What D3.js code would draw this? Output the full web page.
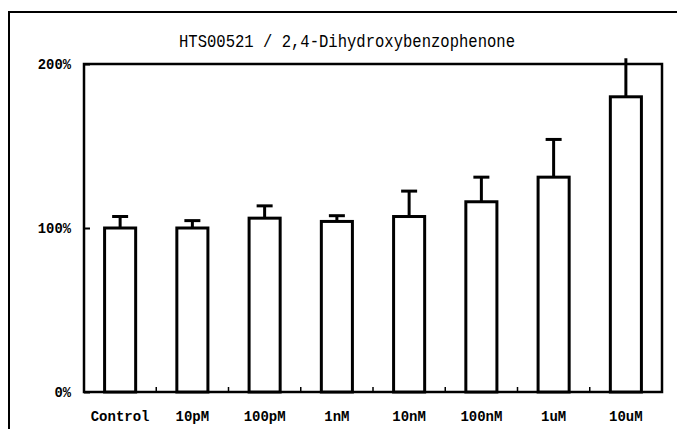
<!DOCTYPE html>
<html><head><meta charset="utf-8">
<script src="https://cdn.jsdelivr.net/npm/d3@7"></script>
<style>html,body{margin:0;padding:0;background:#fff;}svg{display:block;}</style>
</head><body>
<svg id="c" width="677" height="429"></svg>
<script>
const title = "HTS00521 / 2,4-Dihydroxybenzophenone";
const categories = ["Control","10pM","100pM","1nM","10nM","100nM","1uM","10uM"];
const values = [100, 100, 106, 104, 107, 116, 131, 180];
const errors = [7, 4.5, 7.5, 3.5, 15.5, 15, 23, 23.5];
const yTicks = [0, 100, 200];
const yTickLabels = ["0%", "100%", "200%"];

const svg = d3.select("#c");
const font = "'Liberation Mono', 'DejaVu Sans Mono', monospace";
const L = 84, R = 662, T = 64, B = 392;

const x = d3.scaleBand().domain(categories).range([L, R]).paddingInner(0.57).paddingOuter(0.285);
const y = d3.scaleLinear().domain([0, 200]).range([B, T]);

// outer frame
svg.append("path").attr("d", `M9,429 L9,12 L677,12`).attr("fill","none").attr("stroke","#000").attr("stroke-width",2);

// title
svg.append("text").attr("x", 347).attr("y", 47).attr("text-anchor","middle")
  .attr("font-family", font).attr("font-size", 19).attr("textLength", 336).attr("lengthAdjust","spacingAndGlyphs")
  .attr("fill","#000").text(title);

// plot frame
svg.append("rect").attr("x", L).attr("y", T).attr("width", R-L).attr("height", B-T)
  .attr("fill","none").attr("stroke","#000").attr("stroke-width",2.5);

// y axis ticks (inward)
const yAxis = d3.axisRight(y).tickValues(yTicks).tickSize(6).tickFormat("");
const ya = svg.append("g").attr("transform", `translate(${L},0)`).call(yAxis);
ya.select(".domain").remove();
ya.selectAll("line").attr("stroke","#000").attr("stroke-width",2);
svg.selectAll(".ylab").data(yTicks).enter().append("text")
  .attr("x", 71).attr("y", d => y(d) + 5).attr("text-anchor","end")
  .attr("font-family", font).attr("font-weight","bold").attr("font-size", 15)
  .attr("textLength", (d,i) => yTickLabels[i].length * 8.3).attr("lengthAdjust","spacingAndGlyphs")
  .text((d,i) => yTickLabels[i]);

// x axis boundary ticks (inward)
const bounds = categories.slice(1).map(c => x(c) - x.step()*x.paddingInner()/2);
svg.selectAll(".xt").data(bounds).enter().append("line")
  .attr("x1", d => d).attr("x2", d => d).attr("y1", B).attr("y2", B-5)
  .attr("stroke","#000").attr("stroke-width",1.5);

// bars
const data = categories.map((c,i) => ({c, v: values[i], e: errors[i]}));
svg.selectAll(".bar").data(data).enter().append("rect")
  .attr("x", d => x(d.c)).attr("y", d => y(d.v))
  .attr("width", x.bandwidth()).attr("height", d => y(0) - y(d.v))
  .attr("fill","#fff").attr("stroke","#000").attr("stroke-width",3);

// error bars
const cx = d => x(d.c) + x.bandwidth()/2;
svg.selectAll(".err").data(data).enter().append("line")
  .attr("x1", cx).attr("x2", cx).attr("y1", d => y(d.v)).attr("y2", d => y(d.v + d.e))
  .attr("stroke","#000").attr("stroke-width",3);
svg.selectAll(".cap").data(data.filter(d => d.v + d.e <= 200)).enter().append("line")
  .attr("x1", d => cx(d) - 8).attr("x2", d => cx(d) + 8)
  .attr("y1", d => y(d.v + d.e)).attr("y2", d => y(d.v + d.e))
  .attr("stroke","#000").attr("stroke-width",3);

// x labels
svg.selectAll(".xlab").data(categories).enter().append("text")
  .attr("x", d => x(d) + x.bandwidth()/2).attr("y", 421).attr("text-anchor","middle")
  .attr("font-family", font).attr("font-weight","bold").attr("font-size", 15)
  .attr("textLength", d => d.length * 8.4).attr("lengthAdjust","spacingAndGlyphs")
  .text(d => d);
</script>
</body></html>
